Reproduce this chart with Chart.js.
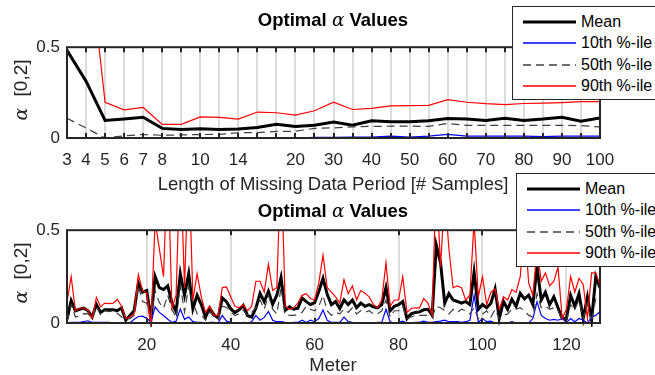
<!DOCTYPE html>
<html>
<head>
<meta charset="utf-8">
<script src="https://cdn.jsdelivr.net/npm/chart.js@4.4.0/dist/chart.umd.min.js"></script>
<style>
  body { margin: 0; width: 655px; height: 375px; overflow: hidden; background: #fff; position: relative;
         font-family: "Liberation Sans", Arial, sans-serif; color: #262626; }
  canvas { position: absolute; left: 0; }
  .txt { position: absolute; white-space: nowrap; transform: translate(-50%, -50%); font-size: 18.5px; }
  .title { font-weight: bold; font-size: 18.5px; color: #000; }
  .alpha { font-family: "DejaVu Serif", "Liberation Serif", serif; font-style: italic; font-weight: normal; }
  .ylab { transform: translate(-50%, -50%) rotate(-90deg); font-size: 19px; }
  .ylab .alpha { margin-right: 6px; }
  .legend { position: absolute; width: 160px; height: 92px; background: #fff; border: 1px solid #262626; z-index: 5; }
  .row { position: absolute; left: 0; height: 20px; display: flex; align-items: center; font-size: 16px; color: #000; }
  .row svg { margin-left: 10px; margin-right: 5px; }
</style>
</head>
<body>
<canvas id="top" width="640" height="150" style="top:30px"></canvas>
<canvas id="bottom" width="640" height="152" style="top:213px"></canvas>

<div class="txt title" style="left:333px;top:20px">Optimal <span class="alpha">α</span> Values</div>
<div class="txt" style="left:333px;top:184px">Length of Missing Data Period [# Samples]</div>
<div class="txt ylab" style="left:20px;top:90px"><span class="alpha">α</span> [0,2]</div>

<div class="txt title" style="left:333px;top:211px">Optimal <span class="alpha">α</span> Values</div>
<div class="txt" style="left:333px;top:365px">Meter</div>
<div class="txt ylab" style="left:20px;top:273px"><span class="alpha">α</span> [0,2]</div>

<div class="legend" id="legTop" style="left:512px;top:6px"></div>
<div class="legend" id="legBottom" style="left:516px;top:173px"></div>

<script>
// Series names (legend)
const SERIES = ["Mean", "10th %-ile", "50th %-ile", "90th %-ile"];

// Top plot: missing data period lengths
const TOP_X = [3, 4, 5, 6, 7, 8, 9, 10, 12, 14, 16, 18, 20, 25, 30, 35, 40, 45, 50, 55, 60, 65, 70, 75, 80, 85, 90, 95, 100];
const TOP_TICKS = [3, 4, 5, 6, 7, 8, 10, 14, 20, 30, 40, 50, 60, 70, 80, 90, 100];
const TOP_MEAN = [0.483, 0.313, 0.097, 0.105, 0.114, 0.053, 0.047, 0.051, 0.047, 0.049, 0.058, 0.075, 0.063, 0.07, 0.088,
  0.071, 0.095, 0.09, 0.09, 0.095, 0.107, 0.104, 0.097, 0.109, 0.097, 0.104, 0.114, 0.092, 0.11];
const TOP_P10 = [0, 0, 0, 0, 0, 0, 0, 0, 0, 0, 0, 0, 0, 0.003, 0.003, 0.005, 0.005, 0.01, 0.005, 0.01, 0.02, 0.01, 0.01,
  0.01, 0.01, 0.008, 0.01, 0.01, 0.01];
const TOP_P50 = [0.109, 0.055, 0, 0.012, 0.019, 0.015, 0.017, 0.019, 0.02, 0.029, 0.03, 0.036, 0.037, 0.053, 0.056,
  0.061, 0.064, 0.065, 0.065, 0.064, 0.08, 0.07, 0.07, 0.07, 0.07, 0.07, 0.07, 0.068, 0.061];
const TOP_P90 = [1.5, 1.15, 0.197, 0.155, 0.168, 0.075, 0.075, 0.116, 0.114, 0.104, 0.143, 0.139, 0.126, 0.15, 0.197,
  0.157, 0.163, 0.177, 0.178, 0.18, 0.211, 0.197, 0.189, 0.184, 0.19, 0.192, 0.195, 0.2, 0.2];

// Bottom plot: per meter (1..128)
const METERS = Array.from({ length: 128 }, (_, i) => i + 1);
const BOTTOM_TICKS = [20, 40, 60, 80, 100, 120];
const Y_TICKS = [0, 0.5];
const M_MEAN = [0.02, 0.12, 0.066, 0.074, 0.08, 0.066, 0.032, 0.099, 0.057, 0.071, 0.071, 0.071, 0.066, 0.082, 0.015,
  0.041, 0.066, 0.216, 0.166, 0.175, 0.02, 0.25, 0.19, 0.18, 0.2, 0.11, 0.06, 0.266, 0.15, 0.266,
  0.077, 0.15, 0.099, 0.031, 0.081, 0.044, 0.027, 0.135, 0.115, 0.077, 0.056, 0.071, 0.095, 0.04, 0.032,
  0.08, 0.16, 0.115, 0.17, 0.1, 0.15, 0.245, 0.068, 0.087, 0.074, 0.08, 0.135, 0.115, 0.1, 0.11,
  0.17, 0.241, 0.155, 0.099, 0.116, 0.078, 0.124, 0.099, 0.124, 0.082, 0.107, 0.09, 0.099, 0.087, 0.082,
  0.099, 0.191, 0.066, 0.09, 0.099, 0.116, 0.024, 0.049, 0.057, 0.06, 0.071, 0.074, 0.041, 0.418, 0.325,
  0.107, 0.158, 0.124, 0.116, 0.107, 0.116, 0.099, 0.275, 0.074, 0.099, 0.082, 0.107, 0.183, 0.024, 0.116,
  0.074, 0.128, 0.09, 0.16, 0.13, 0.15, 0.099, 0.3, 0.124, 0.166, 0.099, 0.141, 0.082, 0.024, 0.024,
  0.149, 0.09, 0.158, 0.024, 0.141, 0.015, 0.25, 0.19];
const M_P10 = [0, 0.003, 0.003, 0.003, 0.008, 0.012, 0.003, 0.003, 0.003, 0.003, 0.003, 0, 0, 0, 0,
  0, 0.02, 0.035, 0.037, 0.025, 0.005, 0.087, 0.057, 0.04, 0.02, 0.003, 0.01, 0.076, 0.02, 0.032,
  0.007, 0.003, 0.003, 0, 0.003, 0.003, 0, 0.041, 0.01, 0.003, 0, 0, 0.003, 0, 0.007,
  0.041, 0.015, 0.03, 0.062, 0.015, 0.007, 0.007, 0.003, 0, 0.003, 0.003, 0.015, 0.003, 0.015, 0.007,
  0.024, 0.07, 0.015, 0.003, 0.003, 0.003, 0.032, 0.007, 0.003, 0, 0, 0, 0, 0, 0.003,
  0.003, 0.074, 0.007, 0, 0.003, 0.01, 0, 0, 0.003, 0.003, 0.01, 0.003, 0.003, 0.007, 0.01,
  0.015, 0.007, 0.007, 0.007, 0.003, 0.007, 0.015, 0.15, 0.003, 0.024, 0.007, 0.01, 0, 0, 0,
  0, 0.007, 0, 0, 0, 0, 0.024, 0.115, 0.041, 0.024, 0.015, 0.019, 0.015, 0.024, 0.003,
  0.024, 0.007, 0.024, 0.015, 0, 0.032, 0.041, 0.062];
const M_P50 = [0.005, 0.099, 0.032, 0.04, 0.05, 0.049, 0.024, 0.09, 0.045, 0.066, 0.061, 0.066, 0.052, 0.032, 0.024,
  0.024, 0.041, 0.2, 0.116, 0.107, 0.041, 0.175, 0.11, 0.08, 0.15, 0.074, 0.03, 0.2, 0.06, 0.2,
  0.11, 0.05, 0.045, 0.015, 0.06, 0.035, 0.02, 0.09, 0.085, 0.06, 0.04, 0.05, 0.07, 0.041, 0.057,
  0.082, 0.124, 0.074, 0.149, 0.074, 0.049, 0.19, 0.049, 0.041, 0.041, 0.045, 0.057, 0.09, 0.074, 0.066,
  0.09, 0.149, 0.066, 0.041, 0.057, 0.049, 0.074, 0.057, 0.082, 0.049, 0.066, 0.057, 0.066, 0.049, 0.049,
  0.066, 0.124, 0.032, 0.066, 0.066, 0.09, 0.024, 0.032, 0.041, 0.041, 0.041, 0.041, 0.032, 0.09, 0.082,
  0.066, 0.049, 0.074, 0.057, 0.074, 0.066, 0.049, 0.082, 0.024, 0.049, 0.066, 0.032, 0.074, 0.024, 0.041,
  0.049, 0.074, 0.074, 0.082, 0.066, 0.041, 0.032, 0.158, 0.082, 0.09, 0.074, 0.082, 0.066, 0.015, 0.015,
  0.099, 0.074, 0.124, 0.024, 0.107, 0.007, 0.132, 0.141];
const M_P90 = [0.114, 0.25, 0.066, 0.078, 0.082, 0.066, 0.024, 0.138, 0.087, 0.107, 0.104, 0.107, 0.127, 0.09, 0.024,
  0.032, 0.049, 0.261, 0.175, 0.161, -0.01, 0.55, 0.4, 0.25, 0.9, 0.08, 0.15, 0.9, 0.19, 0.9,
  0.124, 0.266, 0.141, 0.057, 0.09, 0.041, 0.041, 0.191, 0.194, 0.141, 0.09, 0.082, 0.099, 0.066, 0.09,
  0.225, 0.225, 0.166, 0.317, 0.175, 0.191, 0.9, 0.09, 0.074, 0.082, 0.107, 0.149, 0.158, 0.132, 0.124,
  0.216, 0.366, 0.191, 0.166, 0.141, 0.107, 0.234, 0.158, 0.2, 0.124, 0.175, 0.161, 0.141, 0.099, 0.082,
  0.124, 0.325, 0.09, 0.124, 0.124, 0.25, 0.057, 0.078, 0.082, 0.082, 0.132, 0.107, 0.045, 0.8, 0.3,
  0.7, 0.4, 0.19, 0.2, 0.19, 0.124, 0.15, 0.55, 0.141, 0.25, 0.099, 0.166, 0.183, 0.074, 0.141,
  0.124, 0.18, 0.166, 0.25, 0.55, 0.216, 0.149, 0.4, 0.225, 0.27, 0.2, 0.225, 0.3, 0.024, 0.074,
  0.25, 0.166, 0.241, 0.208, 0.024, 0.27, 0.27, 0.2];

// line styles, same order as SERIES
const STYLES = [
  { color: "#000000", width: 3, dash: [] },
  { color: "#0000ff", width: 1.2, dash: [] },
  { color: "#404040", width: 1.2, dash: [8, 5] },
  { color: "#ff0000", width: 1.2, dash: [] }
];

Chart.defaults.font.family = '"Liberation Sans", Arial, sans-serif';
Chart.defaults.font.size = 17;
Chart.defaults.color = "#262626";

// box + inward tick marks, like matlab axes
const framePlugin = {
  id: "frame",
  afterDatasetsDraw(chart) {
    const { ctx, chartArea: a, scales: { x } } = chart;
    ctx.save();
    ctx.strokeStyle = "#262626";
    ctx.lineWidth = 2;
    ctx.beginPath();
    x.ticks.forEach((t, i) => {
      const px = Math.round(x.getPixelForTick(i));
      ctx.moveTo(px, a.top); ctx.lineTo(px, a.top + 5);
      ctx.moveTo(px, a.bottom); ctx.lineTo(px, a.bottom - 5);
    });
    ctx.stroke();
    ctx.strokeRect(a.left, a.top, a.right - a.left, a.bottom - a.top);
    ctx.restore();
  }
};

function makeDatasets(series) {
  // reverse order so the 90th line ends up on top
  return series.map((data, i) => ({
    label: SERIES[i],
    data,
    borderColor: STYLES[i].color,
    borderWidth: STYLES[i].width,
    borderDash: STYLES[i].dash,
    pointRadius: 0,
    tension: 0,
    fill: false,
    order: series.length - i,
    clip: { left: 0, top: 0, right: 0, bottom: 4 }
  }));
}

function yScale() {
  return {
    min: 0, max: 0.5,
    afterBuildTicks: s => { s.ticks = Y_TICKS.map(v => ({ value: v })); },
    afterFit: s => { s.width = 40; },
    ticks: { padding: 7, callback: v => String(v) },
    grid: { display: false, drawTicks: false },
    border: { display: false }
  };
}

const commonOpts = {
  responsive: false,
  animation: false,
  layout: { padding: { left: 27, right: 40, top: 10, bottom: 12 } },
  plugins: { legend: { display: false }, tooltip: { enabled: false } }
};

new Chart(document.getElementById("top"), {
  type: "line",
  data: {
    labels: TOP_X,
    datasets: makeDatasets([TOP_MEAN, TOP_P10, TOP_P50, TOP_P90])
  },
  options: {
    ...commonOpts,
    scales: {
      x: {
        type: "category",
        afterFit: s => { s.height = 30; },
        ticks: {
          autoSkip: false, maxRotation: 0, padding: 12,
          callback: (v, i) => TOP_TICKS.includes(TOP_X[i]) ? TOP_X[i] : ""
        },
        grid: { color: "#dcdcdc", lineWidth: 2, drawTicks: false },
        border: { display: false }
      },
      y: yScale()
    }
  },
  plugins: [framePlugin]
});

new Chart(document.getElementById("bottom"), {
  type: "line",
  data: {
    datasets: makeDatasets([M_MEAN, M_P10, M_P50, M_P90].map(arr => arr.map((v, i) => ({ x: METERS[i], y: v }))))
  },
  options: {
    ...commonOpts,
    scales: {
      x: {
        type: "linear", min: 1, max: 128,
        afterBuildTicks: s => { s.ticks = BOTTOM_TICKS.map(v => ({ value: v })); },
        afterFit: s => { s.height = 30; },
        ticks: { maxRotation: 0, padding: 12 },
        grid: { color: "#dcdcdc", lineWidth: 2, drawTicks: false },
        border: { display: false }
      },
      y: yScale()
    }
  },
  plugins: [framePlugin]
});

// legends drawn as html boxes overlapping the plots
const ROW_Y = [5, 26, 48, 69];
function buildLegend(id) {
  const box = document.getElementById(id);
  SERIES.forEach((name, i) => {
    const st = STYLES[i];
    const row = document.createElement("div");
    row.className = "row";
    row.style.top = ROW_Y[i] + "px";
    const dash = st.dash.length ? ` stroke-dasharray="${st.dash.join(",")}"` : "";
    row.innerHTML = `<svg width="53" height="6"><line x1="0" y1="3" x2="53" y2="3" stroke="${st.color}" stroke-width="${Math.max(st.width, 1.5)}"${dash}/></svg>${name}`;
    box.appendChild(row);
  });
}
buildLegend("legTop");
buildLegend("legBottom");
</script>
</body>
</html>
